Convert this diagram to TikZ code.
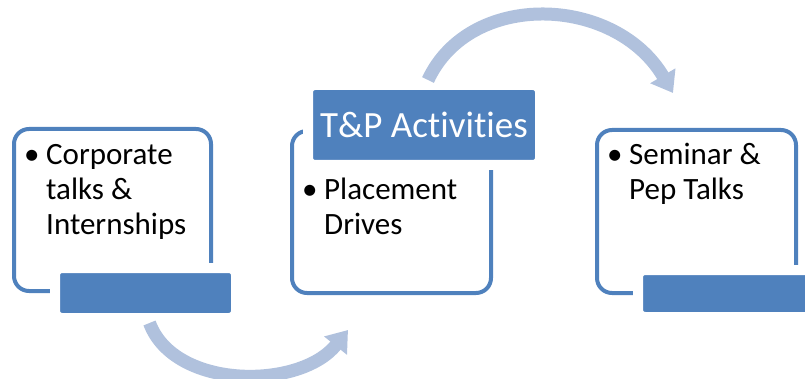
\documentclass[tikz,border=0pt]{standalone}
\usepackage{fontspec}
\setmainfont{Carlito}[RawFeature={-liga;-clig;-calt;-dlig}]
\usetikzlibrary{arrows.meta}
\definecolor{accent}{RGB}{79,129,189}
\definecolor{flowblue}{RGB}{176,193,221}
\newcommand{\bitem}[1]{\makebox[22pt][l]{\textbullet}\parbox[t]{170pt}{#1}}

\begin{document}
\begin{tikzpicture}[x=1pt,y=-1pt,
		panel/.style={draw=accent, line width=4pt, rounded corners=15pt, inner sep=0pt},
		bar/.style={fill=accent, draw=white, line width=10pt, rounded corners=7pt, inner sep=0pt},
		item/.style={anchor=base west, inner sep=0pt, align=left, font=\fontsize{31pt}{35pt}\selectfont},
		flow/.style={draw=flowblue, line width=13pt, -{Triangle[length=20pt,width=28pt]}}]
			\useasboundingbox (0,0) rectangle (805,379);
			% outlined boxes
			\node[panel, minimum width=197pt, minimum height=162pt] (box1) at (112.5,210) {};
			\node[panel, minimum width=199pt, minimum height=162pt] (box2) at (391.5,212) {};
			\node[panel, minimum width=199pt, minimum height=163pt] (box3) at (696.5,211.5) {};
			% filled tabs
			\node[bar, minimum width=181pt, minimum height=50pt] (bar1) at (145.5,293) {};
			\node[bar, minimum width=232pt, minimum height=80pt, text=white,
				font=\fontsize{37pt}{42pt}\selectfont] (title) at (424,125) {T\&P Act\kern0pt ivit\kern0pt ies};
			\node[bar, minimum width=181pt, minimum height=47pt] (bar3) at (728.5,293.5) {};
			% bullet texts
			\node[item] (txt1) at (24,165) {\bitem{Corporate\\talks \&\\Internships}};
			\node[item] (txt2) at (302,200) {\bitem{Placement\\Drives}};
			\node[item] (txt3) at (607,165) {\bitem{Seminar \&\\Pep Talks}};
			% curved arrows
			\coordinate (tip1) at (348,330);
			\coordinate (tip2) at (673,93);
			\draw[flow] ([xshift=4pt]bar1.south) .. controls +(25,67) and +(-48,60) .. (tip1);
			\draw[flow] ([xshift=4pt]title.north) .. controls +(42,-90) and +(-58,-98) .. (tip2);
		\end{tikzpicture}
\end{document}
